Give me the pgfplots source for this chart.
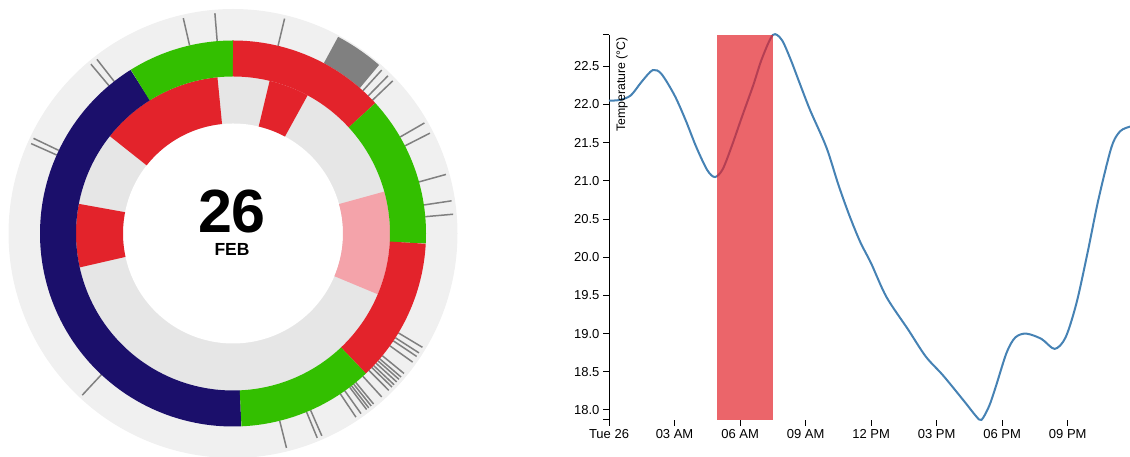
\documentclass[border=0pt]{standalone}
\usepackage{pgfplots}
\pgfplotsset{compat=1.18}
\usepackage{fontspec}
\setmainfont{Liberation Sans}
\definecolor{ringout}{RGB}{240,240,240}
\definecolor{ringin}{RGB}{230,230,230}
\definecolor{dgreen}{RGB}{51,191,0}
\definecolor{dred}{RGB}{227,35,43}
\definecolor{dnavy}{RGB}{27,15,107}
\definecolor{dpink}{RGB}{244,163,170}
\definecolor{dtick}{RGB}{128,128,128}
\definecolor{steel}{RGB}{70,130,180}
\pgfplotstableread{
t v
0.0 22.05
0.5 22.06
1.0 22.12
1.5 22.30
2.0 22.45
2.4 22.40
3.0 22.12
3.5 21.80
4.0 21.44
4.5 21.14
4.85 21.05
5.2 21.15
5.6 21.44
6.1 21.85
6.6 22.25
7.0 22.60
7.5 22.91
7.9 22.85
8.3 22.60
8.7 22.30
9.2 21.93
9.95 21.44
10.5 20.95
11.0 20.55
11.5 20.20
12.0 19.92
12.7 19.48
13.7 19.05
14.5 18.70
15.3 18.45
16.3 18.10
16.8 17.92
17.05 17.87
17.4 18.05
17.7 18.30
18.2 18.75
18.6 18.95
19.1 19.00
19.8 18.93
20.4 18.80
20.9 18.95
21.4 19.40
21.9 20.05
22.4 20.75
23.0 21.44
23.4 21.65
23.85 21.71
}\temps
\begin{document}
\begin{tikzpicture}
\path[use as bounding box] (0,0) rectangle (1130pt,457pt);
% ---------------- donut ----------------
\begin{axis}[
  at={(233pt,223.5pt)}, anchor=origin,
  x=1pt, y=1pt, xmin=-226, xmax=226, ymin=-226, ymax=226,
  hide axis, clip=false,
  every axis plot/.append style={data cs=polar, no marks, samples=120},
]
% base discs
\addplot[fill=ringout, draw=none, domain=0:360, samples=241] ({x},{224.5});
\addplot[fill=ringin, draw=none, domain=0:360, samples=241] ({x},{157});
\addplot[fill=white, draw=none, domain=0:360, samples=241] ({x},{110});
% dark block in outer ring
\addplot[draw=dtick, line width=30pt, domain=49:61.9] ({x},{208});
% event lines in outer ring
\pgfplotsinvokeforeach{-204,-205.5,-230,-232,-257,-265.3,76.5,47.7,45.5,43.7,30,27,15.5,8.5,5,-31,-32.7,-33.8,-35.6,-39.3,-40.5,-41.3,-42.2,-43.2,-44,-45.2,-47.7,-50.5,-51.3,-52.1,-52.8,-54.6,-56.2,-66.3,-67.6,-76,-133}{
  \addplot[draw=dtick, line width=1.5pt] coordinates {(#1,193) (#1,221)};
}
% inner ring segments
\addplot[draw=dred, line width=47pt, domain=-191:-167.6] ({x},{133.5});
\addplot[draw=dred, line width=47pt, domain=-264.3:-218.3] ({x},{133.5});
\addplot[draw=dred, line width=47pt, domain=61.7:76.5] ({x},{133.5});
\addplot[draw=dpink, line width=47pt, domain=-22.8:15.5] ({x},{133.5});
% middle ring segments
\addplot[draw=dnavy, line width=36pt, domain=-238:-87.5] ({x},{175});
\addplot[draw=dgreen, line width=36pt, domain=-270:-238] ({x},{175});
\addplot[draw=dred, line width=36pt, domain=42.5:90] ({x},{175});
\addplot[draw=dgreen, line width=36pt, domain=-3:42.5] ({x},{175});
\addplot[draw=dred, line width=36pt, domain=-46.5:-3] ({x},{175});
\addplot[draw=dgreen, line width=36pt, domain=-87.5:-46.5] ({x},{175});
\node[inner sep=0, font=\fontsize{61}{61}\selectfont\bfseries] at (axis cs:-1,22) {26};
\node[inner sep=0, font=\fontsize{17.5}{18}\selectfont\bfseries] at (axis cs:-1,-16) {FEB};
\end{axis}
% ---------------- line chart ----------------
\begin{axis}[
  at={(609pt,37pt)}, anchor=south west,
  width=521pt, height=385pt, scale only axis,
  xmin=0, xmax=23.85, ymin=17.869, ymax=22.91,
  clip=false,
  separate axis lines,
  axis x line*=bottom, axis y line*=left,
  x axis line style={draw=none},
  y axis line style={black, line width=1pt},
  tick align=outside, major tick length=6pt,
  tick style={black, line width=1pt},
  xtick={0,3,6,9,12,15,18,21},
  xticklabels={Tue 26, 03 AM, 06 AM, 09 AM, 12 PM, 03 PM, 06 PM, 09 PM},
  ytick={18,18.5,19,19.5,20,20.5,21,21.5,22,22.5},
  extra y ticks={17.869,22.91}, extra y tick labels={},
  extra y tick style={tick style={black, line width=1pt}},
  yticklabel style={/pgf/number format/.cd, fixed, fixed zerofill, precision=1},
  /pgf/number format/assume math mode=true,
  tick label style={font=\fontsize{13}{14}\selectfont},
  xticklabel style={yshift=0pt},
]
\addplot[draw=steel, line width=2pt, smooth, no marks] table[x=t, y=v] {\temps};
\addplot[fill=dred, fill opacity=0.7, draw=none] coordinates {(4.945,17.869) (7.51,17.869) (7.51,22.91) (4.945,22.91)} -- cycle;
\node[rotate=90, anchor=north east, inner sep=0, font=\fontsize{12.3}{13}\selectfont] at ([xshift=7pt, yshift=-2pt]rel axis cs:0,1) {Temperature (°C)};
\end{axis}
\end{tikzpicture}
\end{document}
